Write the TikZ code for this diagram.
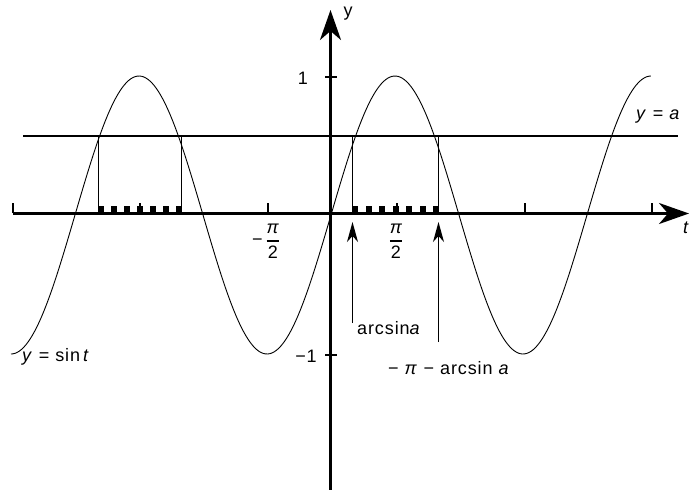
\documentclass[tikz,border=0pt]{standalone}
\usepackage{fontspec}
\setmainfont{Liberation Sans}
\usetikzlibrary{arrows.meta}
\begin{document}
\begin{tikzpicture}[x=1pt,y=-1pt,
  axis/.style={line width=3pt},
  bigtip/.style={-{Stealth[length=30pt,width=21pt,inset=9pt]}},
  smalltip/.style={-{Stealth[length=20pt,width=11pt,inset=6pt]}},
  lbl/.style={inner sep=0pt,font=\fontsize{18}{21}\selectfont\addfontfeature{LetterSpace=5}},
  thinline/.style={line width=1.3pt},
  tickline/.style={line width=1.3pt},
  curve/.style={line width=0.9pt},
  sq/.style={fill=black}]
\useasboundingbox (0,0) rectangle (689,490);
% axes
\coordinate (xs) at (13,213.5);
\coordinate (xe) at (689,213.5);
\coordinate (ys) at (330.5,490);
\coordinate (ye) at (330.5,10);
% line y=a
\coordinate (las) at (23,136);
\coordinate (lae) at (678,136);
\draw[thinline] (las) -- (lae);
% sine curve
\draw[curve] plot[domain=-2.5*pi:2.5*pi,samples=300,smooth]
  ({331+40.744*\x},{215-139*sin(\x r)});
% vertical lines
\foreach \n/\x in {l1/98.5,l2/181.5,r1/352.5,r2/438.5}{
  \coordinate (\n t) at (\x,136);
  \coordinate (\n b) at (\x,212);
  \draw[thinline] (\n t) -- (\n b);
}
% squares
\foreach \i in {0,...,6}{
  \fill[sq] ({98+13*\i},206) rectangle ++(6,6);
  \fill[sq] ({352+13.5*\i},206) rectangle ++(6,6);
}
% ticks on t axis
\foreach \t in {13,140,268,397,525,652}{
  \draw[tickline] (\t,213) -- (\t,203);
}
% ticks on y axis
\draw[tickline] (325,77) -- (337,77);
\draw[tickline] (325,355) -- (337,355);
\draw[axis,bigtip] (xs) -- (xe);
\draw[axis,bigtip] (ys) -- (ye);
% arrows
\coordinate (a1b) at (352.5,323);
\coordinate (a1t) at (352.5,222);
\coordinate (a2b) at (438.5,342);
\coordinate (a2t) at (438.5,222);
\draw[thinline,smalltip] (a1b) -- (a1t);
\draw[thinline,smalltip] (a2b) -- (a2t);
% labels
\node[lbl] (one) at (303,78) {1};
\node[lbl] (mone) at (306,356) {−1};
\node[lbl] (ylab) at (348,14) {y};
\node[lbl,anchor=west] (tlab) at (683,228) {\itshape t};
\node[lbl] (mhalfpi) at (266,241) {−\,$\displaystyle{\hbox{\itshape π}\above1.3pt\hbox{2}}$};
\node[lbl] (halfpi) at (396,241) {$\displaystyle{\hbox{\itshape π}\above1.3pt\hbox{2}}$};
\node[lbl,anchor=west] (asin) at (357,328) {arcsin\textit{a}};
\node[lbl,anchor=west] (pasin) at (388,368) {− \textit{π} − arcsin \textit{a}};
\node[lbl,anchor=west] (ysin) at (22,357) {\textit{y} = sin\,\textit{t}};
\node[lbl,anchor=west] (ya) at (636,117) {\textit{y} = \textit{a}};
\end{tikzpicture}
\end{document}
